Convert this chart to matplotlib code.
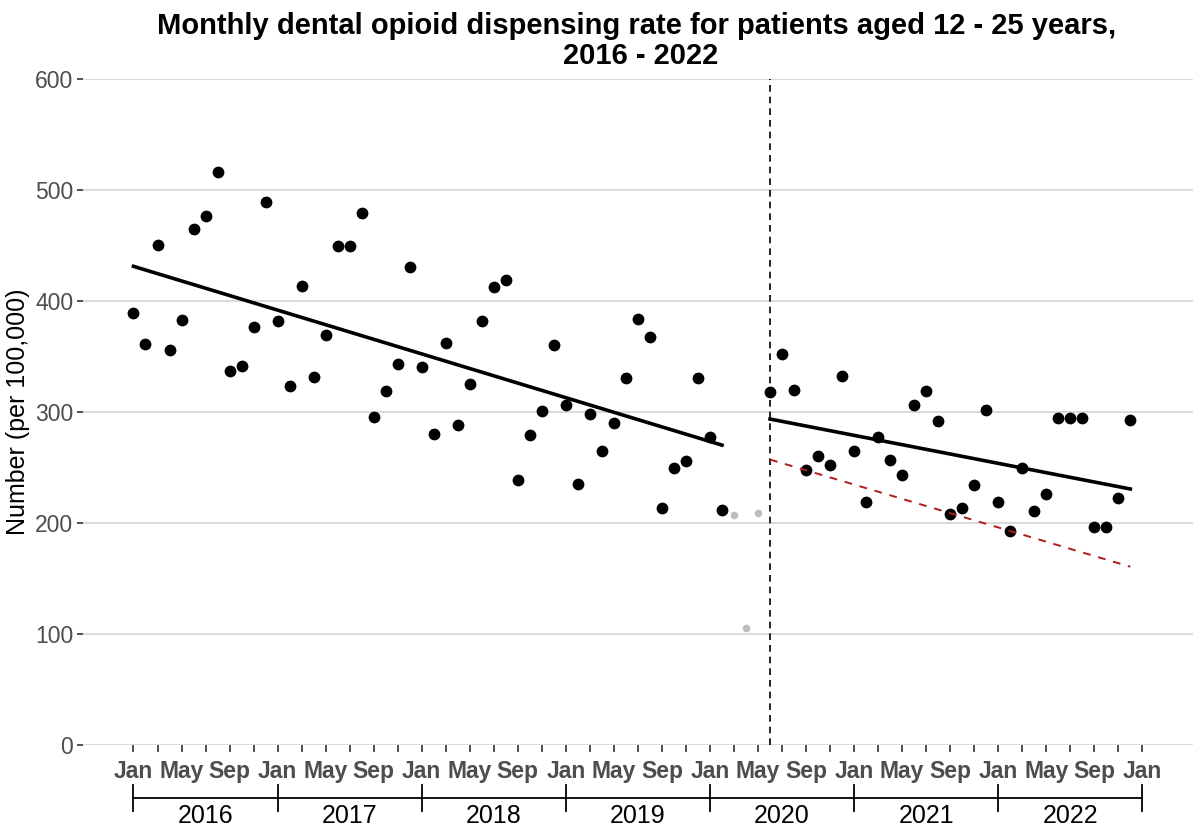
import numpy as np
import matplotlib
matplotlib.use('Agg')
import matplotlib.pyplot as plt
from matplotlib.transforms import blended_transform_factory

plt.rcParams['font.family'] = ['Liberation Sans', 'DejaVu Sans']

# monthly rate per 100,000, Jan 2016 .. Dec 2022
rate = [389, 361, 450, 356, 383, 465, 476, 516, 337, 341, 376, 489,
        382, 323, 413, 331, 369, 449, 449, 479, 295, 319, 343, 430,
        340, 280, 362, 288, 325, 382, 412, 419, 239, 279, 301, 360,
        306, 235, 298, 265, 290, 330, 384, 367, 213, 249, 256, 330,
        277, 212, 207, 105, 209, 318, 352, 320, 248, 260, 252, 332,
        265, 219, 277, 257, 243, 306, 319, 292, 208, 213, 234, 302,
        219, 193, 249, 211, 226, 294, 294, 294, 196, 196, 222, 293]
excluded = [50, 51, 52]          # Mar - May 2020, shown in grey
years = [2016, 2017, 2018, 2019, 2020, 2021, 2022]
month_names = ['Jan', 'May', 'Sep']

# fitted segments (month index, value)
pre_x, pre_y = [0, 49], [431, 270]
post_x, post_y = [53, 83], [293.5, 230.5]
cf_x, cf_y = [53, 83], [257, 160.5]
break_month = 53

months = np.arange(len(rate))
rate = np.array(rate, dtype=float)
grey = np.isin(months, excluded)

fig = plt.figure(figsize=(12, 8.36), dpi=100)
ax = fig.add_axes([0.0692, 0.1089, 0.9248, 0.797])

ax.set_xlim(-4.2, 88.2)
ax.set_ylim(0, 600)
ax.set_yticks([0, 100, 200, 300, 400, 500, 600])
ax.yaxis.grid(True, color='#d4d4d4', lw=1.2)
ax.set_axisbelow(True)
for s in ax.spines.values():
    s.set_visible(False)

ax.scatter(months[~grey], rate[~grey], s=72, color='black', zorder=3, linewidths=0)
ax.scatter(months[grey], rate[grey], s=30, color='#bdbdbd', zorder=3, linewidths=0)

ax.plot(pre_x, pre_y, color='black', lw=2.6, zorder=4)
ax.plot(post_x, post_y, color='black', lw=2.6, zorder=4)
ax.plot(cf_x, cf_y, color='#b01c1c', lw=1.4, ls=(0, (4, 4)), zorder=4)
ax.axvline(break_month, color='black', lw=1.2, ls=(0, (4, 3)), zorder=2)

# labelled ticks every 4 months, unlabelled ones in between
n_months = len(years) * 12
lab_pos = np.arange(0, n_months + 1, 4)
ax.set_xticks(lab_pos)
ax.set_xticklabels([month_names[(p // 4) % 3] for p in lab_pos],
                   fontweight='bold')
ax.set_xticks(np.arange(2, n_months, 4), minor=True)
ax.tick_params(axis='x', which='both', length=5, width=1.2, color='#333333')
ax.tick_params(axis='x', which='major', pad=6, labelsize=16.5,
               labelcolor='#4d4d4d')
ax.tick_params(axis='y', length=4, width=1.2, color='#333333', labelsize=16.5,
               labelcolor='#4d4d4d', pad=3)

# year brackets under the month labels
tr = blended_transform_factory(ax.transData, ax.transAxes)
ax.plot([0, n_months], [-0.0795, -0.0795], color='black', lw=1.3,
        transform=tr, clip_on=False)
for i in range(len(years) + 1):
    ax.plot([i * 12, i * 12], [-0.06, -0.099], color='black', lw=1.3,
            transform=tr, clip_on=False)
for i, yr in enumerate(years):
    ax.text(i * 12 + 6, -0.106, str(yr), transform=tr, ha='center',
            va='center', fontsize=18, color='black')

ax.set_ylabel('Number (per 100,000)', fontsize=18)
ax.yaxis.set_label_coords(-0.048, 0.5)

fig.text(0.5335, 0.986,
         'Monthly dental opioid dispensing rate for patients aged 12 - 25 years, \n2016 - 2022',
         ha='center', va='top', fontsize=21, fontweight='bold',
         linespacing=1.12)

fig.savefig('out.png', dpi=100)
